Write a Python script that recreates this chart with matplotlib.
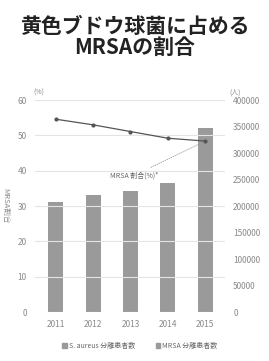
import matplotlib.pyplot as plt
from matplotlib.patches import Patch

plt.rcParams['font.family'] = ['Noto Sans CJK JP', 'DejaVu Sans']

years = ['2011', '2012', '2013', '2014', '2015']
patients = [208000, 220000, 229000, 244000, 348000]
mrsa_rate = [54.6, 53.0, 51.1, 49.2, 48.4]

grey_txt = '#8a8a8a'

fig = plt.figure(figsize=(2.69, 3.61), dpi=100)
fig.text(0.5, 0.897, '黄色ブドウ球菌に占める\nMRSAの割合', ha='center', va='center',
         fontsize=15, fontweight='bold', color='#222222', linespacing=1.0)

ax = fig.add_axes([0.130, 0.1357, 0.706, 0.587])
ax2 = ax.twinx()

x = range(len(years))
ax2.bar(x, patients, width=0.4, color='#9a9a9a', zorder=2)
ax2.set_ylim(0, 400000)
ax2.set_yticks(range(0, 400001, 50000))

ax.set_ylim(0, 60)
ax.set_yticks(range(0, 61, 10))
ax.set_xlim(-0.55, 4.52)
ax.set_xticks(list(x))
ax.set_xticklabels(years)
ax.grid(axis='y', color='#e4e4e4', linewidth=0.8)
ax.set_zorder(ax2.get_zorder() + 1)
ax.patch.set_visible(False)
ax.plot(x, mrsa_rate, color='#555555', linewidth=0.9, marker='o', markersize=2)

for a in (ax, ax2):
    for s in a.spines.values():
        s.set_visible(False)
    a.tick_params(length=0, labelsize=6, labelcolor=grey_txt, pad=6)

ax.text(-0.3, 62, '(%)', fontsize=5, color=grey_txt, ha='right', va='center')
ax.text(4.65, 62, '(人)', fontsize=5, color=grey_txt, ha='left', va='center')
ax.set_ylabel('MRSA割合', fontsize=5.5, color=grey_txt, rotation=270, va='center')
ax.yaxis.set_label_coords(-0.155, 0.5)

ax.annotate('MRSA 割合(%)*', xy=(4, mrsa_rate[-1]), xytext=(2.75, 38.7),
            fontsize=5, color='#666666', ha='right', va='center',
            arrowprops=dict(arrowstyle='-', color='#999999', lw=0.6, linestyle=':'))

handles = [Patch(color='#9a9a9a'), Patch(color='#9a9a9a')]
fig.legend(handles, ['S. aureus 分離患者数', 'MRSA 分離患者数'], loc='center',
           bbox_to_anchor=(0.52, 0.042), ncol=2, frameon=False, fontsize=5,
           labelcolor='#666666', handlelength=0.6, handleheight=0.6,
           handletextpad=0.3, columnspacing=3)

fig.savefig('out.png', dpi=100)
